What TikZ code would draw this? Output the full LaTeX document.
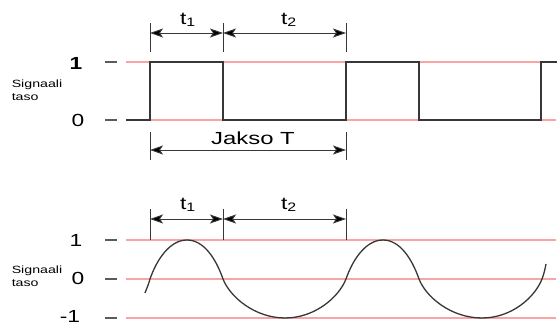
\documentclass[tikz,border=0pt]{standalone}
\usepackage{fontspec}
\setmainfont{Liberation Sans}
\usetikzlibrary{arrows.meta}
\definecolor{levelred}{RGB}{250,165,165}
\definecolor{wavegray}{RGB}{55,55,55}
\definecolor{tickgray}{RGB}{90,90,90}

\begin{document}
\begin{tikzpicture}[x=1pt,y=-1pt,
  lvl/.style={levelred,line width=1.1pt},
  wave/.style={wavegray,line width=1.3pt},
  dimtick/.style={wavegray,line width=0.9pt},
  dimarrow/.style={wavegray,line width=0.9pt,
    arrows={Stealth[length=13pt,width=9pt,inset=3pt,fill=black]-Stealth[length=13pt,width=9pt,inset=3pt,fill=black]}},
  axtick/.style={tickgray,line width=1.2pt},
  num/.style={font=\fontsize{17.5}{20}\selectfont,xscale=1.3,inner sep=0pt},
  sig/.style={font=\fontsize{10.5}{12.5}\selectfont,align=left,xscale=1.35,inner sep=0pt}]
\useasboundingbox (0,0) rectangle (558,326);

% Upper: square wave
\node[sig] (sigA) at (37,90) {Signaali\\taso};
\node[num,font=\fontsize{17.5}{20}\selectfont\bfseries] (oneA) at (76,63) {1};
\node[num] (zeroA) at (78,120) {0};
\foreach \y/\n in {62/hiA,120/loA}{
  \coordinate (\n s) at (126,\y);
  \coordinate (\n e) at (556,\y);
  \draw[axtick] (105,\y) -- (117,\y);
  \draw[lvl] (\n s) -- (\n e);
}
\draw[wave] (126,120) -- (150,120) -- (150,62) -- (223,62) -- (223,120)
  -- (346,120) -- (346,62) -- (419,62) -- (419,120) -- (541,120)
  -- (541,62) -- (557,62);
% dimensions t1, t2
\foreach \x/\n in {150/pA,223/qA,346/rA}{
  \coordinate (\n) at (\x,33);
  \draw[dimtick] (\x,23) -- (\x,52);
}
\draw[dimarrow] (pA) -- (qA);
\draw[dimarrow] (qA) -- (rA);
\node[num] (tA1) at (188,20) {t\textsubscript{1}};
\node[num] (tA2) at (289,20) {t\textsubscript{2}};
% period
\coordinate (pT) at (150,150);
\coordinate (rT) at (346,150);
\draw[dimtick] (150,132) -- (150,160);
\draw[dimtick] (346,132) -- (346,160);
\draw[dimarrow] (pT) -- (rT);
\node[num,xscale=1.05] (jakso) at (253,138) {Jakso T};

% Lower: sine-like wave
\node[sig] (sigB) at (37,276) {Signaali\\taso};
\node[num] (oneB) at (76,240) {1};
\node[num] (zeroB) at (78,278) {0};
\node[num] (minB) at (70,316) {-1};
\foreach \y/\n in {240/hiB,279/miB,318/loB}{
  \coordinate (\n s) at (126,\y);
  \coordinate (\n e) at (556,\y);
  \draw[axtick] (105,\y) -- (117,\y);
  \draw[lvl,line width=1.5pt] (\n s) -- (\n e);
}
\draw[wave] (145,293) .. controls (147,288) and (149,283) .. (150,279)
  .. controls (157,259) and (170,240) .. (187,240)
  .. controls (204,240) and (216,259) .. (223,279)
  .. controls (230,297) and (255,318) .. (285,318)
  .. controls (315,318) and (339,297) .. (346,279)
  .. controls (353,259) and (366,240) .. (383,240)
  .. controls (400,240) and (412,259) .. (419,279)
  .. controls (426,297) and (451,318) .. (482,318)
  .. controls (512,318) and (535,297) .. (542,279)
  .. controls (544,274) and (545,269) .. (546,264);
% dimensions t1, t2
\foreach \x/\n in {150/pB,223/qB,346/rB}{
  \coordinate (\n) at (\x,219);
  \draw[dimtick] (\x,209) -- (\x,240);
}
\draw[dimarrow] (pB) -- (qB);
\draw[dimarrow] (qB) -- (rB);
\node[num] (tB1) at (188,205) {t\textsubscript{1}};
\node[num] (tB2) at (289,205) {t\textsubscript{2}};
\end{tikzpicture}
\end{document}
